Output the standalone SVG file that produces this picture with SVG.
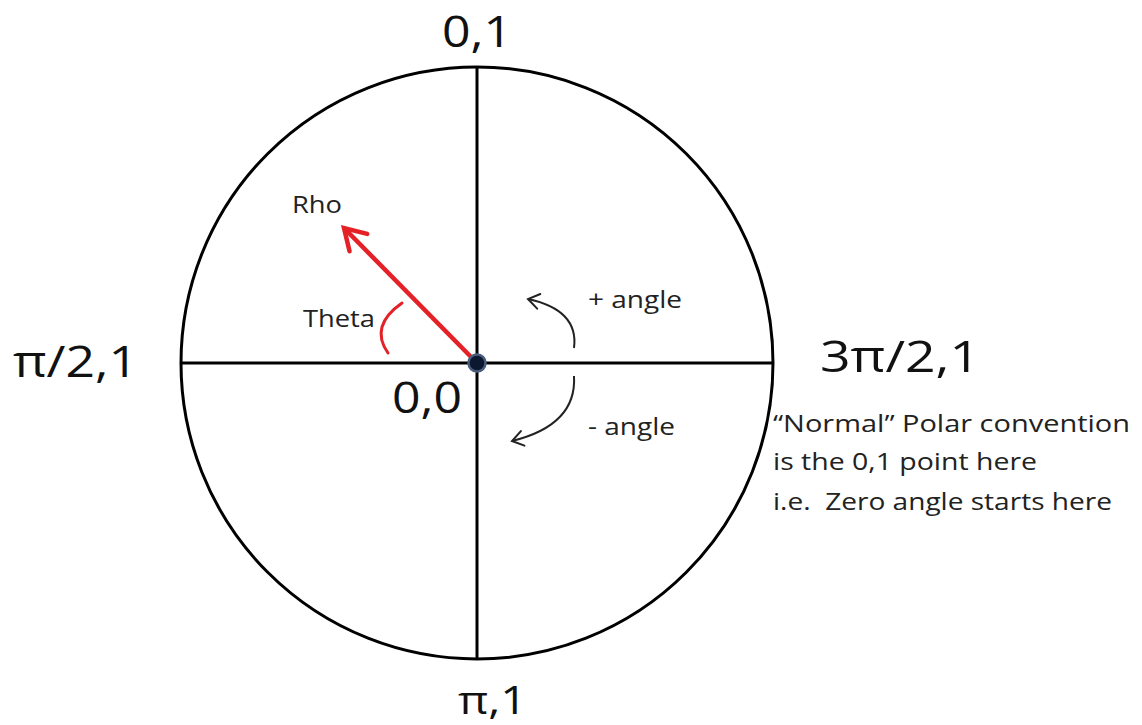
<svg xmlns="http://www.w3.org/2000/svg" width="1142" height="725" viewBox="0 0 1142 725">
<style>
.big{font-family:"Open Sans","Liberation Sans",sans-serif;font-size:44px;fill:#111;}
.small{font-family:"Open Sans","Liberation Sans",sans-serif;font-size:23px;fill:#222;}
.axis{stroke:#000;stroke-width:3;fill:none;}
.curl{stroke:#222;stroke-width:2;fill:none;}
</style>
<defs>
<marker id="redHead" markerUnits="userSpaceOnUse" markerWidth="40" markerHeight="40" refX="0" refY="0" viewBox="-30 -20 40 40" orient="auto" overflow="visible">
<path d="M-20.5,-12.4 L0,0 L-20.5,12.4" fill="none" stroke="#e32126" stroke-width="4.5" stroke-linejoin="miter" stroke-linecap="round"/>
</marker>
<marker id="blackHead" markerUnits="userSpaceOnUse" markerWidth="30" markerHeight="30" refX="0" refY="0" viewBox="-20 -15 30 30" orient="auto" overflow="visible">
<path d="M-11,-7.5 L0,0 L-11,7.5" fill="none" stroke="#222" stroke-width="2" stroke-linecap="round"/>
</marker>
</defs>
<rect width="1142" height="725" fill="#fff"/>
<g id="circle">
<circle cx="477" cy="363" r="296" class="axis"/>
<line x1="181" y1="363" x2="773" y2="363" class="axis"/>
<line x1="477" y1="67" x2="477" y2="659" class="axis"/>
</g>
<g id="connectors">
<line x1="477" y1="363" x2="344" y2="228" stroke="#e32126" stroke-width="4.5" marker-end="url(#redHead)"/>
<path d="M402,303 Q369,326 388,353" fill="none" stroke="#e32126" stroke-width="3" stroke-linecap="round"/>
<path d="M574,348 Q579,310 528,299" class="curl" marker-end="url(#blackHead)"/>
<path d="M574,376 Q577,425 512,441" class="curl" marker-end="url(#blackHead)"/>
</g>
<g id="origin">
<circle cx="477" cy="363" r="8.5" fill="#0b1830" stroke="#4b5d7c" stroke-width="2.5"/>
<text class="big" x="392" y="413" textLength="70" lengthAdjust="spacingAndGlyphs">0,0</text>
</g>
<g id="labels">
<text class="big" x="442" y="47" textLength="70" lengthAdjust="spacingAndGlyphs">0,1</text>
<text class="big" x="458" y="714" style="font-size:38px" textLength="69" lengthAdjust="spacingAndGlyphs">π,1</text>
<text class="big" x="13" y="377" textLength="125" lengthAdjust="spacingAndGlyphs">π/2,1</text>
<text class="big" x="820" y="372" textLength="160" lengthAdjust="spacingAndGlyphs">3π/2,1</text>
<text class="small" x="292" y="213" textLength="50" lengthAdjust="spacingAndGlyphs">Rho</text>
<text class="small" x="303" y="327" textLength="72" lengthAdjust="spacingAndGlyphs">Theta</text>
<text class="small" x="588" y="308" textLength="94" lengthAdjust="spacingAndGlyphs">+ angle</text>
<text class="small" x="588" y="435" textLength="87" lengthAdjust="spacingAndGlyphs">- angle</text>
</g>
<g id="note">
<text class="small" x="773" y="432" textLength="357" lengthAdjust="spacingAndGlyphs">“Normal” Polar convention</text>
<text class="small" x="773" y="470" textLength="264" lengthAdjust="spacingAndGlyphs">is the 0,1 point here</text>
<text class="small" x="773" y="510" textLength="339" lengthAdjust="spacingAndGlyphs" xml:space="preserve">i.e.  Zero angle starts here</text>
</g>
</svg>
